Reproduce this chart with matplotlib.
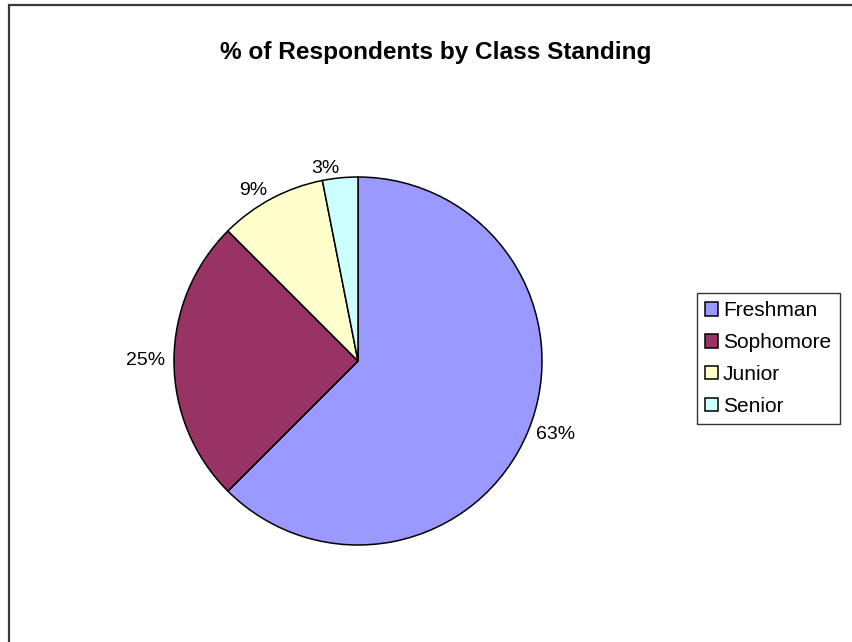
import matplotlib.pyplot as plt
from matplotlib.patches import Patch, Rectangle

plt.rcParams['font.family'] = ['Liberation Sans', 'DejaVu Sans']

classes = ['Freshman', 'Sophomore', 'Junior', 'Senior']
shares = [62.5, 25.0, 9.4, 3.1]
pct_labels = ['63%', '25%', '9%', '3%']
colors = ['#9999FF', '#993366', '#FFFFCC', '#CCFFFF']

W, H = 852, 642
fig = plt.figure(figsize=(W / 100, H / 100), dpi=100)

# outer chart border (cut off at right and bottom like the original)
fig.patches.append(Rectangle((8.5 / W, -0.1), 1.2, 1.1 - 5.5 / H,
                             transform=fig.transFigure, fill=False,
                             edgecolor='#383838', linewidth=1.6))

fig.text(436 / W, 1 - 52 / H, '% of Respondents by Class Standing',
         ha='center', va='center', fontsize=17.6, fontweight='bold')

# pie axes placed so the pie centre sits at (358, 361) px, radius 184 px
cx, cy, r = 358, 361, 184
pad = 1.1
half = r * pad
ax = fig.add_axes([(cx - half) / W, (H - cy - half) / H, 2 * half / W, 2 * half / H])
wedges, texts = ax.pie(shares, labels=pct_labels, colors=colors, startangle=90,
                       counterclock=False, labeldistance=1.05,
                       wedgeprops=dict(edgecolor='black', linewidth=1.1),
                       textprops=dict(fontsize=14))
ax.set_xlim(-pad, pad)
ax.set_ylim(-pad, pad)
ax.set_aspect('equal')
ax.axis('off')

handles = [Patch(facecolor=c, edgecolor='black', linewidth=1.1) for c in colors]
leg = fig.legend(handles, classes, loc='upper left',
                 bbox_to_anchor=(697 / W, 1 - 293 / H), bbox_transform=fig.transFigure,
                 borderaxespad=0, fontsize=15, frameon=True, fancybox=False,
                 handlelength=0.6, handleheight=0.6, handletextpad=0.25,
                 labelspacing=0.62, borderpad=0.4)
leg.get_frame().set_edgecolor('black')
leg.get_frame().set_linewidth(1.0)

fig.savefig('out.png', dpi=100)
